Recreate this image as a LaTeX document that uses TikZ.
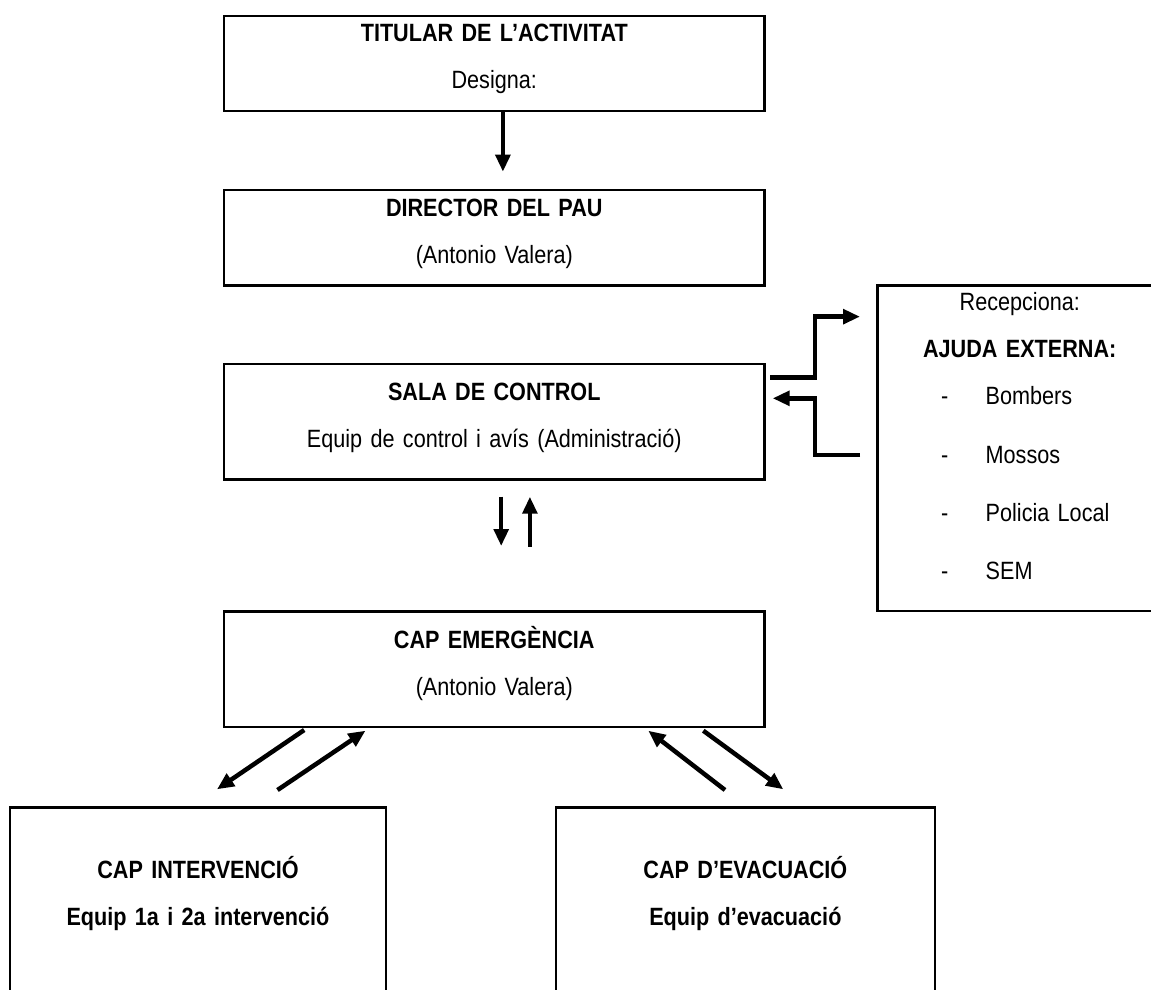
\documentclass[tikz,border=0pt]{standalone}
\usepackage{fontspec}
\setmainfont{Liberation Sans}[FakeStretch=0.865]
\usetikzlibrary{positioning,arrows.meta}

\begin{document}
\begin{tikzpicture}[x=1pt,y=-1pt]
	\tikzset{module/.style={draw,
				rectangle,
				line width=2.4pt,
				inner sep=0pt,
				outer sep=0pt,
				text width=540.5pt,
				align=center,
				font=\fontsize{25}{47}\selectfont},
			arrow/.style={-{Triangle[length=17pt,width=14.5pt]},
				line width=4.5pt}}
	\useasboundingbox (0,0) rectangle (1151,989);
	\clip (0,0) rectangle (1151,989);

	% Nodes
	\node[module, text height=25.7pt, text depth=69.3pt] (titular) at (494.25,63.5)
		{\textbf{TITULAR DE L’ACTIVITAT}\\Designa:};
	\node[module, text height=26.7pt, text depth=68.8pt, below=79pt of titular] (director)
		{\textbf{DIRECTOR DEL PAU}\\(Antonio Valera)};
	\node[module, text height=36pt, text depth=79.5pt, below=78.5pt of director] (sala)
		{\textbf{SALA DE CONTROL}\\Equip de control i avís (Administració)};
	\node[module, text height=37pt, text depth=78.7pt, below=131.8pt of sala] (cap)
		{\textbf{CAP EMERGÈNCIA}\\(Antonio Valera)};
	\node[module, text width=284.5pt, text height=25.4pt, text depth=300.3pt,
		right=113pt of sala, yshift=-26.4pt] (ajuda)
		{Recepciona:\\
		\textbf{AJUDA EXTERNA:}\\
		\makebox[157.5pt][l]{-\hspace{37.5pt}Bombers}\\[11.3pt]
		\makebox[157.5pt][l]{-\hspace{37.5pt}Mossos}\\[11.3pt]
		\makebox[157.5pt][l]{-\hspace{37.5pt}Policia Local}\\[11.3pt]
		\makebox[157.5pt][l]{-\hspace{37.5pt}SEM}};
	\node[module, font=\fontsize{25}{47}\selectfont\bfseries, text width=376pt,
		text height=71pt, text depth=123.7pt,
		below=80.3pt of cap, xshift=-296.25pt] (interv)
		{CAP INTERVENCIÓ\\Equip 1a i 2a intervenció};
	\node[module, font=\fontsize{25}{47}\selectfont\bfseries, text width=378.7pt,
		text height=71pt, text depth=123.7pt,
		below=80.3pt of cap, xshift=251.1pt] (evac)
		{CAP D’EVACUACIÓ\\Equip d’evacuació};

	% Arrows
	\draw[arrow, shorten >=18.3pt] ([xshift=8.65pt]titular.south) -- ([xshift=8.65pt]director.north);
	\draw[arrow, shorten <=17.2pt, shorten >=65.3pt] ([xshift=6.95pt]sala.south) -- ([xshift=6.95pt]cap.north);
	\draw[arrow, shorten <=64.6pt, shorten >=17.2pt] ([xshift=35.65pt]cap.north) -- ([xshift=35.65pt]sala.south);
	\draw[arrow, shorten <=5.5pt, shorten >=17.5pt] ([yshift=44.4pt]sala.east) -- ++(50.5,0) |- ([yshift=131.5pt]ajuda.west);
	\draw[arrow, shorten <=17.5pt, shorten >=8.2pt] ([yshift=-6.85pt]ajuda.west) -- ++(-62.5,0) |- ([yshift=23.45pt]sala.east);
	\draw[arrow] ([xshift=80.2pt,yshift=-3pt]cap.south west) -- ([xshift=19pt,yshift=18pt]interv.north);
	\draw[arrow] ([xshift=79.5pt,yshift=17.3pt]interv.north) -- ([xshift=141.5pt,yshift=-3.7pt]cap.south west);
	\draw[arrow] ([xshift=-20.35pt,yshift=17.3pt]evac.north) -- ([xshift=-116.2pt,yshift=-3.7pt]cap.south east);
	\draw[arrow] ([xshift=-61.2pt,yshift=-3.7pt]cap.south east) -- ([xshift=37.95pt,yshift=18pt]evac.north);
\end{tikzpicture}
\end{document}
